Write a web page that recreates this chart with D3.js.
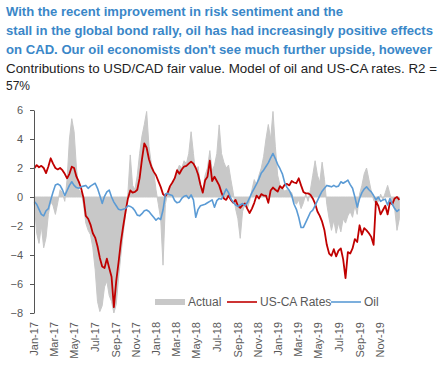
<!DOCTYPE html>
<html>
<head>
<meta charset="utf-8">
<script src="https://cdn.jsdelivr.net/npm/d3@7"></script>
<style>
  html, body { margin: 0; padding: 0; background: #fff; }
  svg { display: block; font-family: "Liberation Sans", Arial, sans-serif; }
</style>
</head>
<body>
<svg id="chart" width="444" height="365"></svg>
<script>
// ---------- data ----------
const titleLines = [
  "With the recent improvement in risk sentiment and the",
  "stall in the global bond rally, oil has had increasingly positive effects",
  "on CAD. Our oil economists don't see much further upside, however"
];
const subtitleLines = [
  "Contributions to USD/CAD fair value. Model of oil and US-CA rates. R2 =",
  "57%"
];
const seriesNames = ["Actual", "US-CA Rates", "Oil"];
const startDate = "2017-01-02"; // weekly observations from this date
const xTickLabels = ["Jan-17","Mar-17","May-17","Jul-17","Sep-17","Nov-17",
  "Jan-18","Mar-18","May-18","Jul-18","Sep-18","Nov-18",
  "Jan-19","Mar-19","May-19","Jul-19","Sep-19","Nov-19"];
const yTicks = [-8, -6, -4, -2, 0, 2, 4, 6];

const actual = [
  -0.5,-2.5,-3.2,-2.0,-3.5,-2.8,-1.2,-0.3,-0.6,-1.2,
  -0.4,0.5,0.3,-0.3,1.2,4.0,5.4,4.5,2.0,0.5,
  0.3,-0.5,-1.8,-2.3,-2.6,-3.5,-5.0,-7.2,-7.9,-7.5,
  -6.2,-5.8,-6.8,-7.2,-8.0,-7.4,-5.6,-4.0,-2.5,-1.2,
  0.3,2.9,0.8,0.5,1.5,3.0,4.2,5.0,5.9,3.5,
  2.3,1.8,0.5,-0.5,-1.5,-4.7,-0.5,0.3,0.6,0.9,
  1.2,1.8,2.2,2.0,2.5,2.3,3.0,4.5,3.0,1.5,
  2.1,0.8,0.5,1.5,2.0,3.2,1.8,2.2,3.0,4.97,
  3.0,2.4,2.0,2.2,1.2,0.3,-0.8,-1.5,-2.85,-1.0,
  -0.5,-0.8,-0.3,0.5,1.2,0.8,1.5,2.0,2.8,4.0,
  5.0,4.0,5.9,3.5,1.5,0.8,0.6,0.4,0.5,0.4,
  0.3,-0.3,-0.5,-0.2,-0.8,-0.4,0.2,-0.3,0.5,1.5,
  2.5,1.5,1.0,2.4,1.2,-0.5,-1.5,-2.3,-1.6,-2.5,
  -1.8,-2.4,-1.5,-1.8,-1.3,-1.0,-1.4,-0.6,-1.2,0.2,
  0.8,1.6,2.0,1.2,0.4,-0.2,-0.5,-0.3,0.2,-0.2,
  0.3,0.8,0.2,-0.4,-0.8,-2.3,-1.5
];
const usCaRates = [
  1.98,2.2,2.05,2.15,2.0,1.65,2.1,2.67,2.3,2.0,
  1.9,2.0,1.85,1.6,1.29,1.6,2.09,2.0,1.4,1.06,
  0.6,-0.05,-1.3,-1.5,-1.9,-2.5,-2.8,-3.4,-4.2,-4.8,
  -4.9,-4.25,-4.9,-5.5,-7.6,-5.8,-4.5,-3.1,-2.0,-1.0,
  -0.1,0.45,0.3,0.35,0.5,1.3,2.6,3.7,3.4,2.6,
  2.1,1.75,1.5,1.1,0.7,0.2,0.05,0.3,0.75,1.0,
  1.3,1.85,1.6,1.9,2.1,2.15,2.3,2.44,2.3,2.0,
  1.55,0.85,0.3,1.15,1.4,2.5,1.1,1.4,1.1,0.8,
  0.3,-0.1,-0.2,0.1,-0.2,-0.4,-0.2,-0.6,-0.75,-0.55,
  -0.45,-0.8,-1.1,-0.8,-0.4,0.1,-0.1,0.2,0.1,0.1,
  -0.4,0.45,0.65,0.5,0.37,0.75,0.6,0.85,0.9,0.8,
  1.1,1.0,0.95,1.29,0.8,0.35,0.25,0.25,0.15,-0.1,
  -0.45,-1.0,-1.3,-1.7,-2.3,-3.3,-3.9,-4.05,-3.6,-4.1,
  -3.7,-3.55,-4.3,-5.6,-3.8,-3.9,-3.55,-2.9,-3.1,-1.95,
  -2.6,-2.15,-2.3,-2.5,-2.75,-3.3,-0.3,-0.6,-1.2,-0.9,
  -0.6,-1.2,-0.35,-0.5,-0.1,0.0,-0.2
];
const oil = [
  -0.32,-0.5,-0.85,-1.2,-1.3,-0.95,-0.8,-0.2,0.35,0.83,
  0.9,0.8,0.5,0.1,0.45,0.8,1.05,0.8,0.65,0.6,
  0.7,0.75,0.8,0.6,0.75,0.85,0.95,0.6,0.1,-0.44,
  0.05,0.35,0.48,0.0,-0.35,-0.6,-0.85,-0.9,-0.85,-0.8,
  -0.6,-0.65,-0.75,-0.95,-1.25,-1.3,-1.15,-0.95,-0.9,-1.0,
  -1.2,-1.4,-1.6,-1.45,-1.55,-0.9,0.2,0.25,0.15,0.1,
  -0.25,-0.4,-0.35,-0.1,0.05,0.1,-0.1,0.15,-0.2,-1.4,
  -0.85,-0.6,-0.55,-0.5,-0.4,-0.3,-0.2,-0.7,-0.25,-0.1,
  -0.15,0.2,0.55,0.3,-0.1,-0.35,-0.55,-0.65,-0.55,-0.45,
  -0.6,-0.4,-0.05,0.3,0.6,0.9,1.25,1.65,1.85,2.1,
  2.35,2.7,3.0,2.65,2.25,1.95,1.6,1.0,0.65,0.45,
  0.1,-0.5,-0.85,-1.4,-2.1,-2.1,-1.75,-1.4,-1.05,-0.9,
  -0.6,-0.25,0.1,0.4,0.6,0.8,0.75,0.7,0.8,0.7,
  0.75,1.05,0.95,1.05,1.17,0.85,0.6,0.0,-0.7,-0.1,
  0.3,0.55,0.7,0.5,0.35,0.1,-0.2,0.0,-0.3,-0.2,
  -0.15,-0.55,-0.1,-0.5,-0.8,-1.0,-0.85
];

// ---------- build ----------
const svg = d3.select("#chart");
const t0 = d3.timeParse("%Y-%m-%d")(startDate);
const dates = actual.map((_, i) => d3.timeWeek.offset(t0, i));
const mk = arr => arr.map((v, i) => ({ date: dates[i], v }));

const x = d3.scaleTime()
  .domain([new Date(2017, 0, 1), new Date(2020, 0, 1)])
  .range([34, 400]);
const y = d3.scaleLinear().domain([-8, 6]).range([313, 110]);

const colors = { actual: "#c8c8c8", rates: "#c00000", oil: "#5b9bd5" };

// titles
const titleWidths = [337, 427, 426];
svg.append("g").selectAll("text").data(titleLines).join("text")
  .attr("x", 6).attr("y", (d, i) => 16 + i * 19)
  .attr("fill", "#3a87c8").attr("font-size", 13).attr("font-weight", "bold")
  .attr("textLength", (d, i) => titleWidths[i]).attr("lengthAdjust", "spacingAndGlyphs")
  .text(d => d);
svg.append("g").selectAll("text").data(subtitleLines).join("text")
  .attr("x", 6).attr("y", (d, i) => 73 + i * 17)
  .attr("fill", "#222").attr("font-size", 12)
  .attr("textLength", (d, i) => i === 0 ? 431 : null)
  .attr("lengthAdjust", "spacingAndGlyphs")
  .text(d => d);

// actual area
const area = d3.area().x(d => x(d.date)).y0(y(0)).y1(d => y(d.v));
svg.append("path").datum(mk(actual))
  .attr("d", area).attr("fill", colors.actual)
  .attr("stroke", colors.actual).attr("stroke-width", 1);

// lines
const line = d3.line().x(d => x(d.date)).y(d => y(d.v));
svg.append("path").datum(mk(usCaRates)).attr("d", line)
  .attr("fill", "none").attr("stroke", colors.rates).attr("stroke-width", 1.8)
  .attr("stroke-linejoin", "round");
svg.append("path").datum(mk(oil)).attr("d", line)
  .attr("fill", "none").attr("stroke", colors.oil).attr("stroke-width", 1.6)
  .attr("stroke-linejoin", "round");

// y axis
const yAxis = svg.append("g").attr("transform", "translate(34,0)")
  .call(d3.axisLeft(y).tickValues(yTicks).tickFormat(d3.format("d"))
    .tickSize(4).tickSizeOuter(0).tickPadding(7));
yAxis.select(".domain").attr("stroke", "#555");
yAxis.selectAll(".tick line").attr("stroke", "#555");
yAxis.selectAll("text").attr("fill", "#595959").attr("font-size", 11)
  .attr("font-family", "Liberation Sans, Arial, sans-serif");

// x axis (rotated labels)
const parseM = d3.timeParse("%b-%y");
const xDates = xTickLabels.map(parseM);
const xAxis = svg.append("g").attr("transform", "translate(0,320)")
  .call(d3.axisBottom(x).tickValues(xDates)
    .tickFormat((d, i) => xTickLabels[i]).tickSize(0));
xAxis.select(".domain").remove();
xAxis.selectAll("text")
  .attr("transform", "rotate(-90)")
  .attr("x", -2).attr("y", 0).attr("dy", "0.35em")
  .attr("text-anchor", "end")
  .attr("fill", "#595959").attr("font-size", 11)
  .attr("font-family", "Liberation Sans, Arial, sans-serif");

// legend
const lg = svg.append("g").attr("font-size", 12).attr("fill", "#595959");
lg.append("rect").attr("x", 155).attr("y", 299).attr("width", 30).attr("height", 6)
  .attr("fill", colors.actual);
lg.append("text").attr("x", 188).attr("y", 306).text(seriesNames[0]);
lg.append("line").attr("x1", 227).attr("x2", 257).attr("y1", 302).attr("y2", 302)
  .attr("stroke", colors.rates).attr("stroke-width", 1.6);
lg.append("text").attr("x", 260).attr("y", 306).text(seriesNames[1]);
lg.append("line").attr("x1", 331).attr("x2", 361).attr("y1", 302).attr("y2", 302)
  .attr("stroke", colors.oil).attr("stroke-width", 1.6);
lg.append("text").attr("x", 364).attr("y", 306).text(seriesNames[2]);
</script>
</body>
</html>
